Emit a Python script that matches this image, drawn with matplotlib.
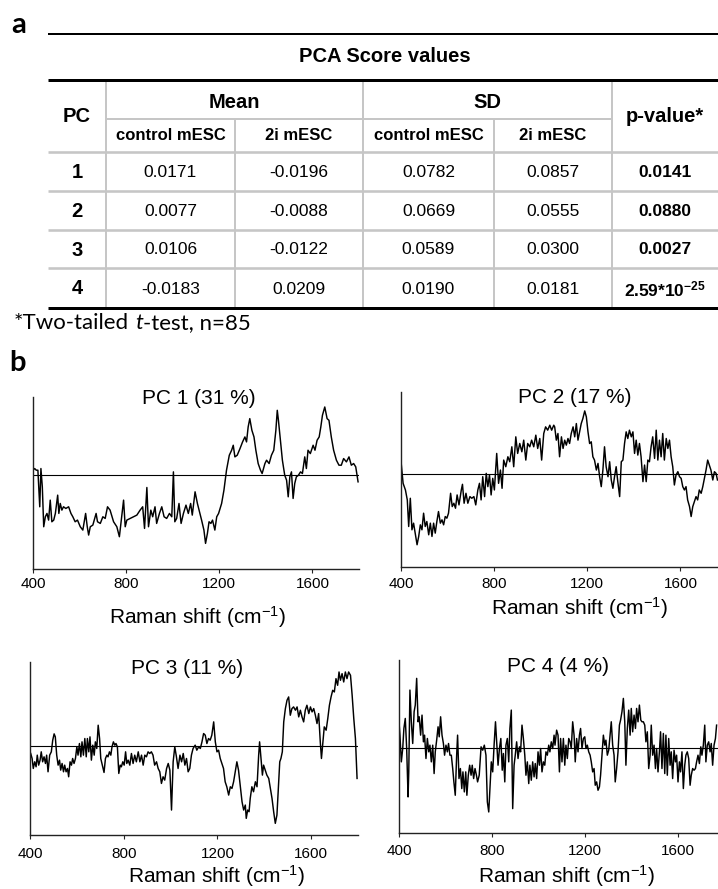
import matplotlib
matplotlib.use('Agg')
import matplotlib.pyplot as plt

plt.rcParams['font.family'] = ['Liberation Sans', 'DejaVu Sans']
plt.rcParams['mathtext.fontset'] = 'custom'
plt.rcParams['mathtext.rm'] = 'Liberation Sans'
plt.rcParams['mathtext.it'] = 'Liberation Sans:italic'
plt.rcParams['mathtext.bf'] = 'Liberation Sans:bold'

# ---------------- table data ----------------
pc_ids = [1, 2, 3, 4]
mean_control = [0.0171, 0.0077, 0.0106, -0.0183]
mean_2i = [-0.0196, -0.0088, -0.0122, 0.0209]
sd_control = [0.0782, 0.0669, 0.0589, 0.0190]
sd_2i = [0.0857, 0.0555, 0.0300, 0.0181]
p_values = [0.0141, 0.0880, 0.0027, 2.59e-25]

# ---------------- loading spectra (arbitrary units) ----------------
pc1_x = [400, 407, 414, 421, 429, 434, 440, 446, 453, 460,
         467, 474, 481, 489, 496, 506, 511, 517, 524, 531,
         541, 553, 563, 571, 581, 591, 603, 614, 626, 633,
         639, 646, 657, 671, 677, 689, 700, 710, 720, 731,
         746, 760, 771, 781, 789, 796, 803, 817, 831, 846,
         860, 871, 879, 889, 896, 906, 914, 924, 931, 943,
         953, 963, 974, 986, 996, 1003, 1009, 1017, 1027, 1036,
         1046, 1057, 1067, 1077, 1084, 1096, 1106, 1117, 1124, 1134,
         1141, 1149, 1156, 1164, 1171, 1181, 1189, 1197, 1210, 1220,
         1231, 1243, 1253, 1260, 1267, 1277, 1289, 1300, 1310, 1317,
         1324, 1331, 1340, 1349, 1357, 1367, 1377, 1384, 1396, 1403,
         1414, 1424, 1434, 1443, 1449, 1454, 1463, 1471, 1481, 1489,
         1496, 1503, 1510, 1517, 1524, 1531, 1540, 1549, 1557, 1567,
         1574, 1581, 1591, 1603, 1611, 1620, 1629, 1636, 1643, 1653,
         1663, 1671, 1681, 1691, 1703, 1714, 1724, 1734, 1746, 1757,
         1767, 1777, 1786, 1796]
pc1_y = [13, 18, 13, 13, -97, 18, -37, -157, -127, -117,
         -137, -77, -142, -137, -117, -62, -117, -87, -107, -97,
         -102, -97, -117, -127, -142, -137, -157, -167, -117, -157,
         -182, -157, -152, -117, -142, -147, -127, -132, -97, -107,
         -142, -157, -187, -127, -77, -157, -137, -132, -127, -122,
         -107, -97, -162, -39, -157, -107, -127, -97, -147, -117,
         -97, -127, -132, -117, -127, 8, -142, -132, -87, -147,
         -117, -92, -117, -87, -122, -52, -87, -117, -137, -167,
         -207, -177, -142, -147, -137, -167, -127, -117, -87, -47,
         13, 58, 73, 88, 53, 58, 78, 98, 113, 98,
         143, 168, 133, 113, 73, 33, 13, 3, 33, 43,
         33, 58, 73, 133, 193, 163, 98, 43, -2, -17,
         -67, -7, 8, -72, -27, -7, -2, 8, 3, 53,
         18, 73, 63, 88, 73, 103, 113, 143, 178, 203,
         168, 163, 113, 73, 43, 28, 28, 48, 38, 53,
         28, 33, 23, -22]

pc2_x = [400, 409, 419, 427, 433, 440, 447, 454, 461, 469,
         476, 483, 490, 497, 504, 511, 519, 526, 533, 540,
         547, 554, 561, 569, 576, 583, 590, 597, 604, 613,
         620, 627, 634, 641, 649, 659, 664, 671, 679, 687,
         696, 704, 713, 721, 730, 737, 744, 751, 759, 766,
         773, 780, 787, 794, 801, 811, 819, 827, 834, 841,
         850, 859, 867, 876, 884, 893, 901, 910, 919, 927,
         936, 944, 953, 961, 970, 979, 987, 996, 1004, 1013,
         1021, 1030, 1039, 1047, 1056, 1060, 1067, 1074, 1081, 1089,
         1096, 1103, 1110, 1117, 1124, 1131, 1139, 1146, 1153, 1160,
         1167, 1174, 1181, 1189, 1196, 1203, 1210, 1217, 1224, 1231,
         1239, 1246, 1253, 1260, 1267, 1274, 1281, 1289, 1296, 1303,
         1310, 1317, 1324, 1331, 1339, 1346, 1353, 1360, 1367, 1374,
         1381, 1389, 1396, 1403, 1410, 1417, 1424, 1431, 1439, 1446,
         1453, 1460, 1467, 1474, 1481, 1489, 1496, 1503, 1510, 1517,
         1524, 1531, 1539, 1546, 1553, 1560, 1567, 1574, 1581, 1589,
         1596, 1603, 1610, 1617, 1624, 1631, 1639, 1646, 1653, 1660,
         1667, 1674, 1681, 1689, 1696, 1703, 1710, 1717, 1724, 1731,
         1739, 1746, 1753, 1759]
pc2_y = [40, -27, -47, -77, -157, -72, -167, -147, -177, -212,
         -187, -152, -167, -117, -157, -142, -182, -147, -187, -147,
         -177, -142, -112, -147, -137, -152, -127, -132, -117, -57,
         -97, -87, -102, -62, -92, -47, -30, -87, -57, -87,
         -67, -72, -67, -92, -47, -27, -77, -7, -67, 3,
         -37, -2, -62, -12, -47, 63, -27, 13, -42, 43,
         23, 53, 38, 83, 23, 113, 63, 93, 68, 103,
         43, 93, 83, 103, 83, 118, 78, 108, 43, 123,
         143, 133, 148, 133, 148, 143, 103, 123, 53, 113,
         78, 103, 88, 108, 93, 123, 143, 113, 153, 103,
         128, 153, 168, 191, 173, 128, 93, 98, 53, 43,
         13, 33, -7, -37, 13, 83, 23, -7, 38, -17,
         -42, -7, 23, -22, -67, 38, 43, 93, 128, 108,
         133, 113, 128, 63, 103, 58, 93, 53, -22, 28,
         -22, 43, 38, 83, 113, 48, 133, 43, 103, 53,
         123, 43, 108, 78, 103, 53, 23, -32, -2, 8,
         -7, -12, -37, -47, -37, -77, -97, -127, -97, -82,
         -67, -77, -47, -57, -37, -12, 13, 43, 28, 13,
         -17, 8, 3, -17]

pc3_x = [403, 409, 414, 420, 426, 431, 437, 443, 448, 454,
         460, 466, 471, 477, 484, 491, 497, 503, 508, 514,
         520, 526, 531, 537, 543, 548, 554, 560, 565, 571,
         577, 582, 588, 594, 600, 605, 611, 617, 622, 628,
         634, 640, 645, 651, 656, 662, 668, 674, 679, 685,
         691, 697, 702, 716, 722, 728, 733, 739, 745, 750,
         756, 762, 767, 773, 779, 785, 790, 796, 802, 808,
         813, 819, 826, 833, 840, 847, 854, 862, 869, 876,
         883, 890, 897, 904, 911, 918, 925, 932, 940, 947,
         954, 961, 968, 975, 983, 990, 997, 1004, 1011, 1018,
         1025, 1032, 1040, 1047, 1054, 1061, 1068, 1075, 1082, 1089,
         1096, 1105, 1112, 1120, 1127, 1134, 1141, 1148, 1155, 1162,
         1169, 1176, 1184, 1191, 1198, 1205, 1212, 1219, 1226, 1233,
         1240, 1248, 1255, 1262, 1269, 1276, 1283, 1290, 1297, 1305,
         1312, 1319, 1323, 1329, 1335, 1340, 1347, 1354, 1362, 1369,
         1376, 1380, 1386, 1392, 1397, 1404, 1411, 1419, 1426, 1433,
         1440, 1447, 1454, 1461, 1466, 1471, 1477, 1483, 1490, 1497,
         1504, 1511, 1518, 1525, 1533, 1540, 1547, 1554, 1561, 1568,
         1575, 1582, 1590, 1597, 1604, 1611, 1618, 1625, 1632, 1639,
         1644, 1649, 1656, 1664, 1671, 1678, 1685, 1692, 1699, 1706,
         1713, 1719, 1725, 1732, 1739, 1746, 1753, 1760, 1768, 1775,
         1782, 1789, 1796]
pc3_y = [-24, -39, -69, -49, -64, -29, -59, -44, -19, -49,
         -34, -54, -29, -79, -29, -19, 16, 35, 26, -29,
         -59, -44, -74, -54, -79, -59, -79, -69, -94, -49,
         -59, -39, -54, -39, -4, -29, 6, -34, 11, -29,
         21, -34, 21, -19, 26, -44, 1, -29, 11, -9,
         61, 21, -39, -81, -39, -29, -34, -19, -29, -4,
         11, 1, 6, -4, -84, -59, -64, -49, -59, -19,
         -54, -44, -59, -24, -54, -29, -49, -19, -49, -29,
         -59, -29, -34, -19, -24, -19, -29, -59, -49, -69,
         -79, -114, -94, -104, -69, -54, -74, -194, -49, -4,
         -34, -69, -29, -49, -24, -59, -39, -79, -69, -29,
         -9, 1, -14, -4, -9, 11, 36, 31, 6, 21,
         16, 31, 71, 11, -19, -14, -39, -54, -69, -109,
         -124, -149, -124, -129, -109, -79, -49, -74, -119, -169,
         -194, -179, -219, -194, -199, -159, -124, -139, -109, -124,
         -29, 11, -39, -89, -59, -74, -89, -99, -129, -159,
         -199, -234, -209, -119, -49, -39, -19, 71, 111, 136,
         146, 91, 111, 116, 106, 116, 86, 106, 86, 71,
         106, 121, 96, 116, 101, 111, 91, 66, 96, 11,
         -39, 1, 56, 46, 81, 121, 146, 166, 161, 201,
         181, 221, 196, 216, 191, 221, 201, 221, 211, 151,
         81, 21, -99]

pc4_x = [400, 404, 410, 416, 421, 427, 433, 439, 442, 447,
         453, 459, 465, 470, 476, 482, 487, 493, 499, 505,
         510, 516, 522, 528, 533, 539, 545, 551, 556, 562,
         568, 573, 579, 585, 591, 596, 602, 608, 613, 619,
         625, 631, 636, 642, 648, 652, 658, 664, 670, 675,
         681, 687, 692, 698, 704, 710, 715, 721, 727, 733,
         738, 745, 753, 760, 767, 774, 780, 786, 791, 797,
         803, 809, 815, 820, 826, 832, 838, 844, 849, 855,
         860, 866, 872, 877, 883, 889, 895, 900, 906, 912,
         918, 923, 929, 935, 941, 946, 952, 958, 963, 969,
         975, 981, 986, 992, 998, 1004, 1009, 1015, 1021, 1027,
         1032, 1038, 1044, 1049, 1055, 1061, 1067, 1071, 1078, 1084,
         1090, 1095, 1101, 1107, 1113, 1118, 1124, 1130, 1136, 1141,
         1147, 1153, 1158, 1164, 1170, 1176, 1181, 1187, 1193, 1199,
         1204, 1210, 1216, 1222, 1227, 1233, 1239, 1244, 1250, 1256,
         1262, 1267, 1273, 1279, 1285, 1290, 1296, 1302, 1308, 1313,
         1319, 1325, 1330, 1336, 1342, 1348, 1353, 1359, 1365, 1371,
         1376, 1382, 1388, 1394, 1399, 1405, 1411, 1417, 1422, 1428,
         1434, 1440, 1445, 1451, 1457, 1462, 1468, 1474, 1480, 1485,
         1491, 1497, 1503, 1508, 1514, 1520, 1525, 1531, 1537, 1543,
         1548, 1554, 1560, 1566, 1571, 1577, 1583, 1589, 1594, 1600,
         1606, 1611, 1617, 1623, 1629, 1634, 1640, 1646, 1652, 1657,
         1663, 1669, 1675, 1680, 1686, 1692, 1698, 1703, 1709, 1715,
         1720, 1726, 1732, 1738, 1743, 1749, 1755, 1761, 1766]
pc4_y = [78, 38, -42, -2, 58, 88, -2, -147, -72, 173,
         78, 13, 108, 128, 208, 78, 93, 38, 98, 18,
         38, -32, 28, -12, 8, -42, 8, -77, -12, 23,
         63, 33, 93, 38, 13, -22, 8, -12, 13, -22,
         -22, -62, -102, -142, -22, 38, -92, -62, -122, -72,
         -132, -72, -142, -82, -52, -82, -52, -92, -62, -82,
         -102, -82, 3, -7, 8, -22, -162, -192, -122, -42,
         -72, 8, 78, 18, -52, -2, 28, -67, -17, -102,
         8, 28, -42, 58, 113, -182, -52, -22, 18, -32,
         3, -12, 68, 28, -22, -82, -42, -107, -52, -97,
         -42, -87, -47, -92, -12, -52, -2, -72, -42, -52,
         -12, -22, 8, -12, 18, -2, 38, 8, 53, 38,
         -72, 28, -42, 28, -52, 8, -32, 28, 18, -2,
         78, 38, -42, 28, -12, 38, 58, -2, 28, 33,
         -2, 8, -12, -22, -42, -72, -62, -112, -102, -127,
         -117, -82, -22, 38, 8, 23, -22, -7, 38, 78,
         8, -22, -102, -62, -12, 68, 83, 108, 148, 78,
         -52, 58, 113, 38, 118, 48, 98, 58, 118, 78,
         128, 83, 78, 78, 68, 18, 48, -62, -22, 68,
         -22, 8, -62, -2, -72, -12, 48, -62, 43, -77,
         38, -82, 28, -52, -12, -92, -7, -42, -22, -102,
         -42, -72, -12, -122, -52, -22, -12, -32, -112, -82,
         -62, -67, -62, -42, -22, -47, 3, -22, 8, 68,
         -42, 8, 18, -12, 13, -52, 8, 28, 68]

pc_names = ['PC 1', 'PC 2', 'PC 3', 'PC 4']
explained = [31, 17, 11, 4]
tick_values = [400, 800, 1200, 1600]

W, H = 718, 889
fig = plt.figure(figsize=(W / 100, H / 100), dpi=100)

# overlay in pixel coordinates for the table and panel letters
ov = fig.add_axes([0, 0, 1, 1])
ov.set_xlim(0, W)
ov.set_ylim(H, 0)
ov.axis('off')

PT = 0.72  # px -> pt
gray = '#c6c6c6'
x0, x1 = 48, 718
col_edges = [48, 106, 235, 363, 494, 612, 718]
row_edges = [152, 191, 230, 268, 308]

def hl(y, xa, xb, color, lw):
    ov.plot([xa, xb], [y, y], color=color, lw=lw * PT, solid_capstyle='butt')

def vl(x, ya, yb, color, lw):
    ov.plot([x, x], [ya, yb], color=color, lw=lw * PT, solid_capstyle='butt')

# gray grid
for x in (106, 363, 612):
    vl(x, 80, 308, gray, 2)
for x in (235, 494):
    vl(x, 119, 308, gray, 2)
hl(119, 106, 612, gray, 2)
for y in row_edges[:-1]:
    hl(y, x0, x1, gray, 2.6)
# black rules
hl(34, x0, x1, 'black', 2)
hl(80, x0, x1, 'black', 3)
hl(308, x0, x1, 'black', 3)

def cc(i):
    return (col_edges[i] + col_edges[i + 1]) / 2

ov.text(385, 57, 'PCA Score values', ha='center', va='center', fontsize=14.5, fontweight='bold')
ov.text(cc(0), 117, 'PC', ha='center', va='center', fontsize=14.5, fontweight='bold')
ov.text((106 + 363) / 2, 102, 'Mean', ha='center', va='center', fontsize=14.5, fontweight='bold')
ov.text((363 + 612) / 2, 102, 'SD', ha='center', va='center', fontsize=14.5, fontweight='bold')
ov.text(cc(5), 117, 'p-value*', ha='center', va='center', fontsize=14.5, fontweight='bold')
for i, lab in zip([1, 2, 3, 4], ['control mESC', '2i mESC', 'control mESC', '2i mESC']):
    ov.text(cc(i), 136, lab, ha='center', va='center', fontsize=12, fontweight='bold')

def fmt_p(p):
    if p < 1e-4:
        m, e = f'{p:.2e}'.split('e')
        return r'$\mathbf{' + m + r'{*}10^{' + str(int(e)) + r'}}$'
    return f'{p:.4f}'

for r in range(4):
    yc = (row_edges[r] + row_edges[r + 1]) / 2 + 1
    ov.text(cc(0), yc, str(pc_ids[r]), ha='center', va='center', fontsize=14.5, fontweight='bold')
    for i, arr in zip([1, 2, 3, 4], [mean_control, mean_2i, sd_control, sd_2i]):
        ov.text(cc(i), yc, f'{arr[r]:.4f}', ha='center', va='center', fontsize=12.5)
    ov.text(cc(5), yc, fmt_p(p_values[r]), ha='center', va='center', fontsize=12.5, fontweight='bold')

# footnote with italic t
rend = fig.canvas.get_renderer()
fam = ['Lato', 'DejaVu Sans']
fs_fn = 16
def width(s, style='normal'):
    t = ov.text(0, 0, s, fontsize=fs_fn, family=fam, style=style)
    w = t.get_window_extent(renderer=rend).width
    t.remove()
    return w
space_w = width('a a') - width('aa')
xx = 14
for s, st in [('*Two-tailed', 'normal'), (' ', None), ('t', 'italic'), ('-test, n=85', 'normal')]:
    if st is None:
        xx += space_w
        continue
    t = ov.text(xx, 323, s, fontsize=fs_fn, family=fam, style=st, ha='left', va='center')
    xx += t.get_window_extent(renderer=rend).width

ov.text(11, 33, 'a', fontsize=21, fontweight='bold', family=fam, va='baseline', ha='left')
ov.text(9, 371, 'b', fontsize=21, fontweight='bold', family=fam, va='baseline', ha='left')

# ---------------- spectra panels ----------------
panels = [
    dict(x=pc1_x, y=pc1_y, box=(33, 397, 359, 569), ylim=(-284, 233), tpos=(0.51, 0.99), lpos=(0.506, -0.279), pad=2.7),
    dict(x=pc2_x, y=pc2_y, box=(401, 392, 727, 567), ylim=(-279, 248), tpos=(0.534, 0.966), lpos=(0.549, -0.234), pad=4.1),
    dict(x=pc3_x, y=pc3_y, box=(30, 662, 358, 835), ylim=(-269, 251), tpos=(0.48, 0.965), lpos=(0.57, -0.238), pad=5.4),
    dict(x=pc4_x, y=pc4_y, box=(399, 660, 724.5, 833), ylim=(-255, 263), tpos=(0.49, 0.965), lpos=(0.516, -0.25), pad=4.8),
]

for k, p in enumerate(panels):
    l, t, r, b = p['box']
    ax = fig.add_axes([l / W, 1 - b / H, (r - l) / W, (b - t) / H])
    ax.patch.set_alpha(0)
    ax.plot(p['x'], p['y'], color='black', lw=1.05)
    ax.axhline(0, color='black', lw=0.8)
    ax.set_xlim(400, 1800)
    ax.set_ylim(*p['ylim'])
    ax.set_xticks(tick_values)
    ax.set_yticks([])
    ax.tick_params(axis='x', length=3, width=0.8, pad=p['pad'], labelsize=11, color='#222222')
    for s in ('top', 'right'):
        ax.spines[s].set_visible(False)
    for s in ('left', 'bottom'):
        ax.spines[s].set_linewidth(1.0)
        ax.spines[s].set_color('#222222')
    ax.text(p['tpos'][0], p['tpos'][1], f'{pc_names[k]} ({explained[k]} %)', transform=ax.transAxes,
            ha='center', va='center', fontsize=15)
    ax.set_xlabel(r'Raman shift (cm$^{-1}$)', fontsize=15, va='center')
    ax.xaxis.set_label_coords(*p['lpos'])

fig.savefig('out.png', dpi=100)
